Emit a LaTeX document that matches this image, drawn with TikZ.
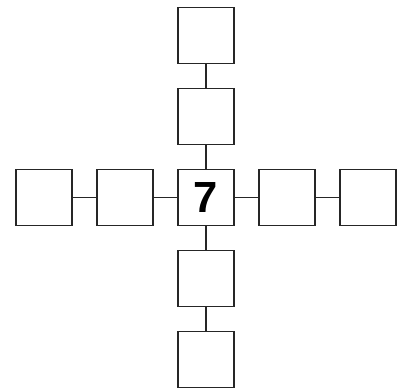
\documentclass[tikz,border=0pt]{standalone}
\usepackage{fontspec}
\setmainfont{Liberation Sans}
\usetikzlibrary{positioning}

\begin{document}
\begin{tikzpicture}[node distance=2.025cm, auto]
    % Define styles
    \tikzstyle{cell} = [rectangle, minimum width=1.4cm, minimum height=1.4cm, draw=black!85, line width=1.2pt, inner sep=0pt]
    \tikzstyle{link} = [draw=black!85, line width=1.2pt]
    \useasboundingbox (-5.15,-4.7625) rectangle (4.975,4.9375);

    % Nodes
    \node [cell, font=\fontsize{31}{31}\selectfont\bfseries] (center) {7};
    \node [cell, left of=center] (left1) {};
    \node [cell, left of=left1] (left2) {};
    \node [cell, right of=center] (right1) {};
    \node [cell, right of=right1] (right2) {};
    \node [cell, above of=center] (up1) {};
    \node [cell, above of=up1] (up2) {};
    \node [cell, below of=center] (down1) {};
    \node [cell, below of=down1] (down2) {};

    % Links
    \draw [link] (left2) -- (left1);
    \draw [link] (left1) -- (center);
    \draw [link] (center) -- (right1);
    \draw [link] (right1) -- (right2);
    \draw [link] (up2) -- (up1);
    \draw [link] (up1) -- (center);
    \draw [link] (center) -- (down1);
    \draw [link] (down1) -- (down2);
\end{tikzpicture}
\end{document}
